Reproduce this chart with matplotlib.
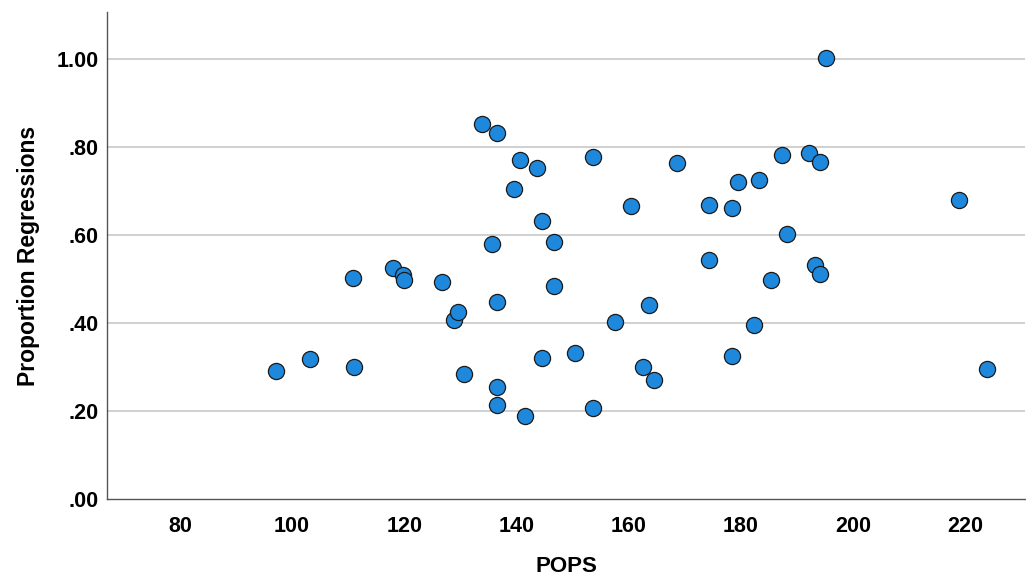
import matplotlib
matplotlib.use("Agg")
import matplotlib.pyplot as plt
from matplotlib.ticker import FixedLocator, FuncFormatter

plt.rcParams['font.family'] = ['Liberation Sans', 'DejaVu Sans']

pops = [97.1, 103.2, 110.9, 111.0, 117.9, 119.8, 120.0, 126.8, 128.8, 129.6,
        130.7, 133.8, 136.6, 135.7, 136.6, 136.6, 136.6, 141.6, 140.7, 143.6,
        139.6, 144.6, 146.6, 146.6, 144.6, 153.6, 153.6, 150.5, 157.5, 160.5,
        163.6, 162.5, 164.5, 168.6, 174.3, 174.3, 178.4, 179.5, 178.4, 182.3,
        183.2, 185.4, 187.3, 188.2, 192.1, 194.1, 193.2, 194.1, 195.2, 218.8,
        223.8]
prop_regressions = [0.291, 0.318, 0.503, 0.300, 0.525, 0.509, 0.498, 0.493, 0.407, 0.425,
                    0.284, 0.852, 0.832, 0.580, 0.448, 0.255, 0.214, 0.189, 0.770, 0.752,
                    0.705, 0.632, 0.584, 0.484, 0.320, 0.777, 0.207, 0.332, 0.402, 0.666,
                    0.441, 0.300, 0.270, 0.764, 0.668, 0.543, 0.661, 0.720, 0.325, 0.395,
                    0.725, 0.498, 0.782, 0.602, 0.786, 0.766, 0.532, 0.511, 1.002, 0.680,
                    0.295]

x_ticks = [80, 100, 120, 140, 160, 180, 200, 220]
y_ticks = [0.0, 0.2, 0.4, 0.6, 0.8, 1.0]

fig = plt.figure(figsize=(10.26, 5.83), dpi=100)
ax = fig.add_axes([0.1043, 0.144, 0.895, 0.835])

ax.scatter(pops, prop_regressions, s=135, facecolor='#1e88dc', edgecolor='#1a1a1a',
           linewidths=0.9, zorder=3)

ax.set_xlim(67.0, 230.7)
ax.set_ylim(0.0, 1.107)
ax.xaxis.set_major_locator(FixedLocator(x_ticks))
ax.yaxis.set_major_locator(FixedLocator(y_ticks))
ax.yaxis.set_major_formatter(FuncFormatter(lambda v, p: f"{v:.2f}".lstrip('0')))

for y in y_ticks[1:]:
    ax.axhline(y, color='#c8c8c8', linewidth=1.2, zorder=1)

for s in ['top', 'right']:
    ax.spines[s].set_visible(False)
for s in ['left', 'bottom']:
    ax.spines[s].set_color('#555555')
    ax.spines[s].set_linewidth(1.0)

ax.tick_params(axis='both', length=0, labelsize=15.5)
ax.tick_params(axis='x', pad=12)
ax.tick_params(axis='y', pad=6)
for lab in ax.get_xticklabels() + ax.get_yticklabels():
    lab.set_fontweight('bold')

ax.set_xlabel('POPS', fontsize=16, fontweight='bold', labelpad=14)
ax.set_ylabel('Proportion Regressions', fontsize=16.5, fontweight='bold', labelpad=12)

fig.savefig('out.png', dpi=100)
